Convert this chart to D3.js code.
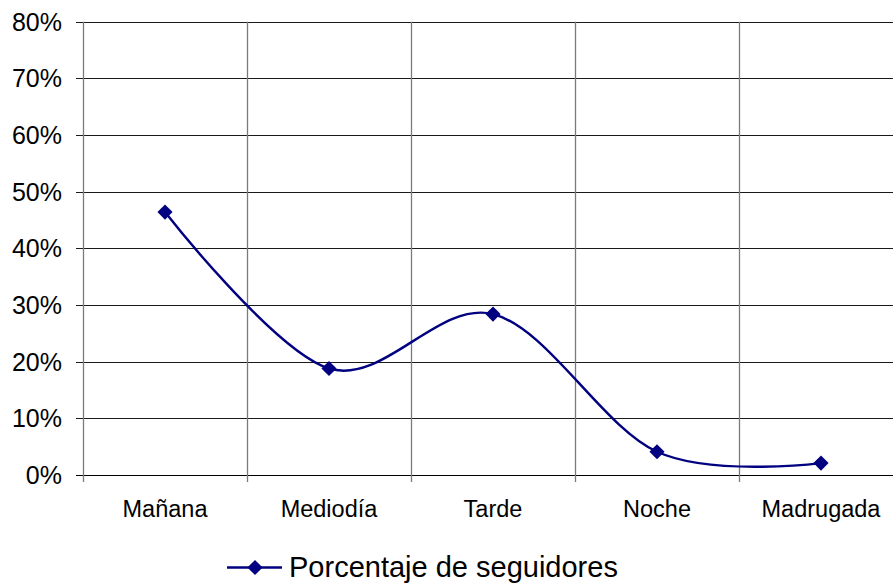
<!DOCTYPE html>
<html>
<head>
<meta charset="utf-8">
<script src="https://cdn.jsdelivr.net/npm/d3@7"></script>
<style>
  body { margin: 0; background: #fff; }
  text { font-family: "Liberation Sans", Arial, sans-serif; fill: #000; }
</style>
</head>
<body>
<div id="chart"></div>
<script>
// categories and values (percent)
const categories = ["Mañana", "Mediodía", "Tarde", "Noche", "Madrugada"];
const values = [46.4, 18.8, 28.4, 4.1, 2.1];
const yTicks = [0, 10, 20, 30, 40, 50, 60, 70, 80];
const seriesName = "Porcentaje de seguidores";

const W = 893, H = 583;
var margin = {top: 21.7, left: 83, bottom: 475};
var plotRight = 903; // plot extends past the right edge of the picture

var svg = d3.select("#chart")
  .append("svg")
  .attr("width", W)
  .attr("height", H);

var x = d3.scaleBand().domain(categories).range([margin.left, plotRight]);
var y = d3.scaleLinear().domain([0, 80]).range([margin.bottom, margin.top]);

// horizontal gridlines
svg.append("g")
  .selectAll("line")
  .data(yTicks)
  .enter().append("line")
  .attr("x1", margin.left - 7)
  .attr("x2", plotRight)
  .attr("y1", d => Math.round(y(d)) + 0.5)
  .attr("y2", d => Math.round(y(d)) + 0.5)
  .attr("stroke", d => d == 0 ? "#000" : "#1a1a1a")
  .attr("stroke-width", 1);

// vertical gridlines (category boundaries)
var bounds = categories.map(c => x(c)).slice(1);
svg.append("g")
  .selectAll("line")
  .data(bounds)
  .enter().append("line")
  .attr("x1", d => Math.round(d) + 0.5)
  .attr("x2", d => Math.round(d) + 0.5)
  .attr("y1", y(80))
  .attr("y2", margin.bottom + 7)
  .attr("stroke", "#7a7a7a")
  .attr("stroke-width", 1.3);

// y axis line
svg.append("line")
  .attr("x1", margin.left + 0.5).attr("x2", margin.left + 0.5)
  .attr("y1", y(80)).attr("y2", margin.bottom + 7)
  .attr("stroke", "#7a7a7a")
  .attr("stroke-width", 1.3);

// y labels
svg.append("g")
  .selectAll("text")
  .data(yTicks)
  .enter().append("text")
  .attr("x", 62)
  .attr("y", d => y(d) + 9)
  .attr("text-anchor", "end")
  .style("font-size", "25px")
  .text(d => d + "%");

// x labels
svg.append("g")
  .selectAll("text")
  .data(categories)
  .enter().append("text")
  .attr("x", d => x(d) + x.bandwidth() / 2)
  .attr("y", 517)
  .attr("text-anchor", "middle")
  .style("font-size", "23.5px")
  .text(d => d);

// series
var pts = categories.map((c, i) => ({cat: c, val: values[i]}));
var lineGen = d3.line()
  .x(d => x(d.cat) + x.bandwidth() / 2)
  .y(d => y(d.val))
  .curve(d3.curveCardinal.tension(0));

svg.append("path")
  .datum(pts)
  .attr("d", lineGen)
  .attr("fill", "none")
  .attr("stroke", "#000080")
  .attr("stroke-width", 2.4);

var diamond = d3.symbol().type(d3.symbolSquare).size(115);
svg.append("g")
  .selectAll("path")
  .data(pts)
  .enter().append("path")
  .attr("d", diamond)
  .attr("transform", d => "translate(" + (x(d.cat) + x.bandwidth() / 2) + "," + y(d.val) + ") rotate(45)")
  .attr("fill", "#000080");

// legend
var leg = svg.append("g");
leg.append("line")
  .attr("x1", 227).attr("x2", 282)
  .attr("y1", 567.5).attr("y2", 567.5)
  .attr("stroke", "#000080")
  .attr("stroke-width", 2.4);
leg.append("path")
  .attr("d", diamond)
  .attr("transform", "translate(255,567.5) rotate(45)")
  .attr("fill", "#000080");
leg.append("text")
  .attr("x", 289)
  .attr("y", 577)
  .style("font-size", "29px")
  .text(seriesName);
</script>
</body>
</html>
